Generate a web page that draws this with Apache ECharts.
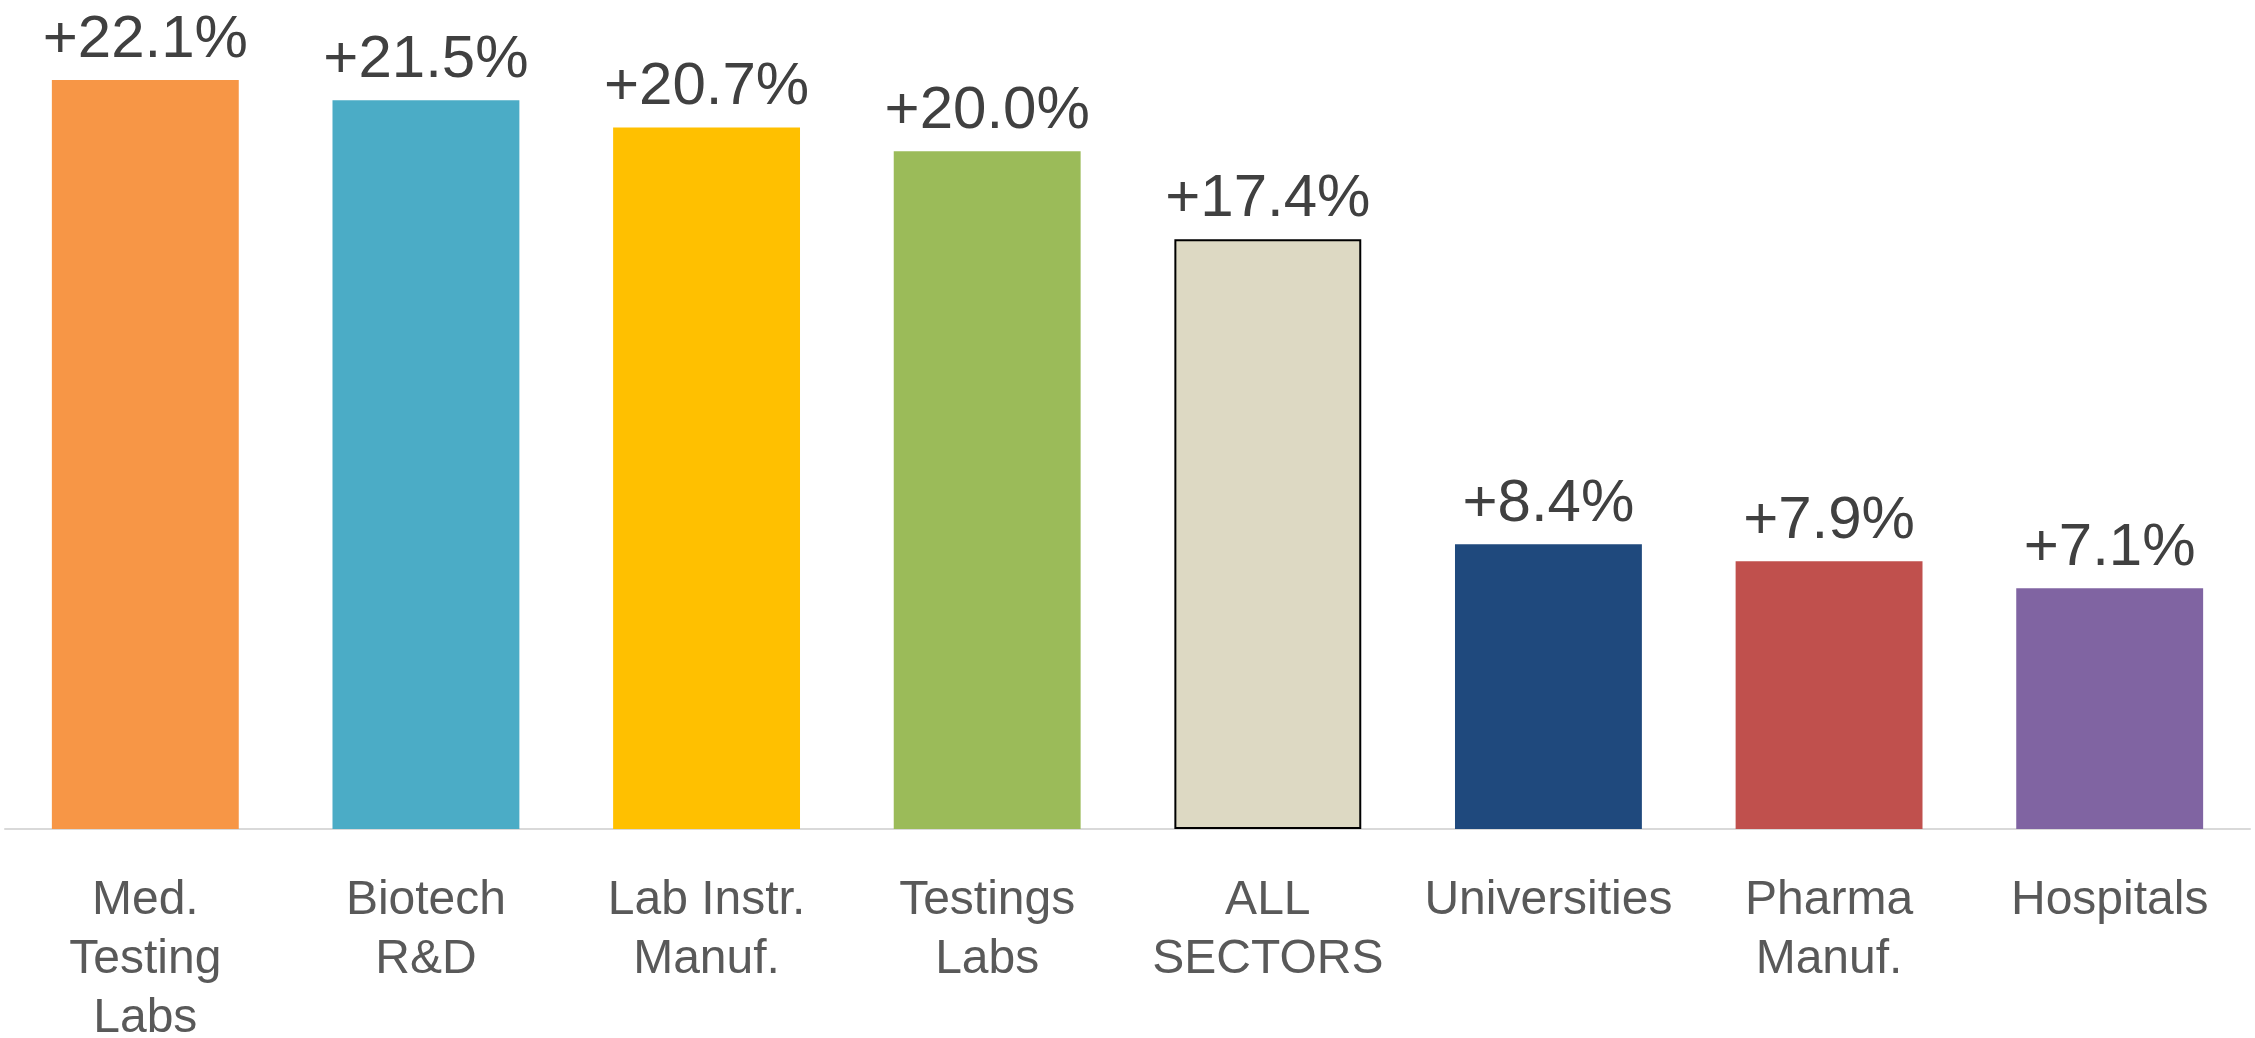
<!DOCTYPE html>
<html>
<head>
<meta charset="utf-8">
<script src="https://cdn.jsdelivr.net/npm/echarts@6/dist/echarts.min.js"></script>
<style>
  html, body { margin: 0; padding: 0; background: #fff; }
  #chart { width: 2255px; height: 1038px; }
</style>
</head>
<body>
<div id="chart"></div>
<script>
// categories (x axis labels)
var categories = [
  "Med.\nTesting\nLabs",
  "Biotech\nR&D",
  "Lab Instr.\nManuf.",
  "Testings\nLabs",
  "ALL\nSECTORS",
  "Universities",
  "Pharma\nManuf.",
  "Hospitals"
];
// growth in %
var growth = [22.1, 21.5, 20.7, 20.0, 17.4, 8.4, 7.9, 7.1];
var barColors = ["#F79646", "#4BACC6", "#FFC000", "#9BBB59", "#DDD9C3", "#1F497D", "#C0504D", "#8064A2"];

var chart = echarts.init(document.getElementById("chart"));

var barData = growth.map(function (v, i) {
  var item = { value: v, itemStyle: { color: barColors[i] } };
  // total bar has a black outline
  if (i === 4) {
    item.itemStyle.borderColor = "#000";
    item.itemStyle.borderWidth = 2;
  }
  return item;
});

var option = {
  animation: false,
  grid: { left: 5, right: 5, top: 2, bottom: 209, outerBoundsMode: "none", containLabel: false },
  xAxis: {
    type: "category",
    data: categories,
    axisLine: { lineStyle: { color: "#D9D9D9", width: 2 } },
    axisTick: { show: false },
    axisLabel: {
      color: "#595959",
      fontFamily: "Liberation Sans",
      fontSize: 48,
      lineHeight: 59,
      margin: 42,
      interval: 0
    }
  },
  yAxis: {
    type: "value",
    min: 0,
    max: 24.4,
    show: false,
    splitLine: { show: false }
  },
  series: [{
    type: "bar",
    data: barData,
    barWidth: "66.6%",
    label: {
      show: true,
      position: "top",
      distance: 10,
      color: "#404040",
      fontFamily: "Liberation Sans",
      fontSize: 60,
      formatter: function (p) { return "+" + p.value.toFixed(1) + "%"; }
    }
  }]
};

chart.setOption(option);
</script>
</body>
</html>
